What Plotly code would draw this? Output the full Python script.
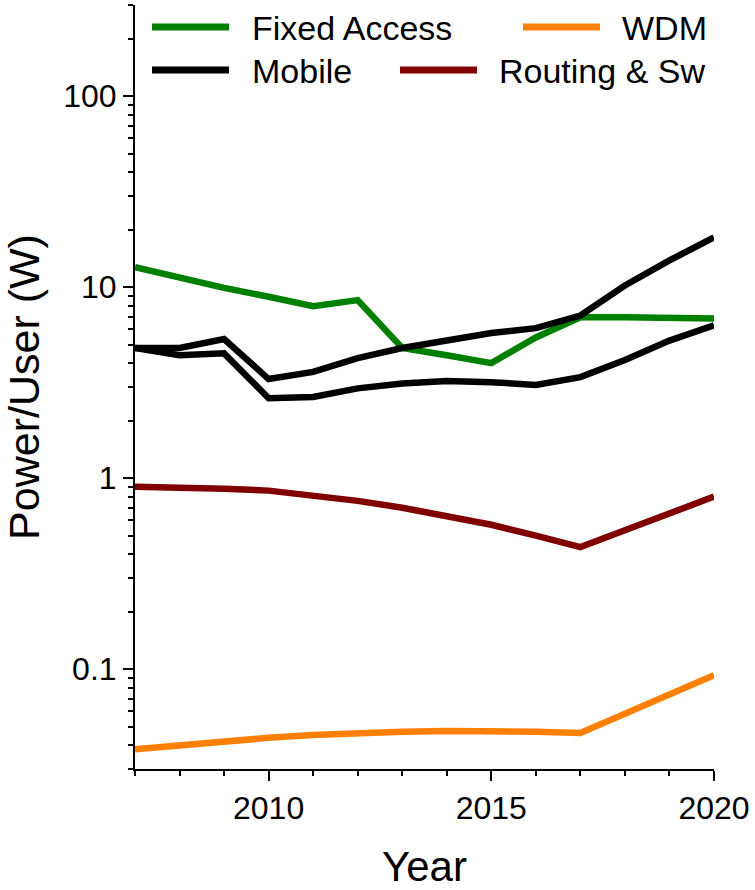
import plotly.graph_objects as go

years = list(range(2007, 2021))
fixed_access = [12.7, 11.2, 9.9, 8.9, 7.95, 8.55, 4.8, 4.4, 4.0, 5.45, 6.95, 6.95, 6.9, 6.85]
mobile_high = [4.8, 4.8, 5.35, 3.3, 3.6, 4.25, 4.8, 5.3, 5.75, 6.1, 7.1, 10.2, 13.8, 18.2]
mobile_low = [4.8, 4.4, 4.5, 2.62, 2.66, 2.95, 3.13, 3.22, 3.18, 3.07, 3.38, 4.15, 5.25, 6.3]
routing_sw = [0.90, 0.895, 0.88, 0.86, 0.81, 0.76, 0.70, 0.635, 0.57, 0.50, 0.435, 0.533, 0.653, 0.80]
wdm = [0.038, 0.040, 0.042, 0.0437, 0.0452, 0.0463, 0.0470, 0.0474, 0.0475, 0.0470, 0.0463, 0.0584, 0.0737, 0.093]

y_major = [0.1, 1, 10, 100]
y_major_labels = ["0.1", "1", "10", "100"]
y_minor = [m * 10.0 ** e for e in range(-2, 3) for m in range(2, 10)]
x_major = [2010, 2015, 2020]

GREEN = "#008000"
BLACK = "#000000"
ORANGE = "#FF8000"
DARKRED = "#800000"
FONT = "Arial, Liberation Sans, sans-serif"

W, H = 755, 890
ML, MR, MT, MB = 135, 41, 5, 121
PW, PH = W - ML - MR, H - MT - MB

fig = go.Figure()
series = [
    ("Fixed Access", fixed_access, GREEN),
    ("Mobile", mobile_high, BLACK),
    ("Mobile", mobile_low, BLACK),
    ("Routing & Sw", routing_sw, DARKRED),
    ("WDM", wdm, ORANGE),
]
for name, vals, col in series:
    fig.add_trace(go.Scatter(x=years, y=vals, mode="lines", name=name,
                             line=dict(color=col, width=6.5), showlegend=False))

# manual legend (layout elements)
def px_x(p):
    return (p - ML) / PW

def px_y(p):
    return (H - MB - p) / PH

legend_items = [
    ("Fixed Access", GREEN, 152, 229, 27, 250),
    ("Mobile", BLACK, 152, 229, 70, 250),
    ("WDM", ORANGE, 523, 600, 27, 620),
    ("Routing & Sw", DARKRED, 400, 477, 70, 497),
]
for text, col, x0, x1, yc, tx in legend_items:
    fig.add_shape(type="line", xref="paper", yref="paper",
                  x0=px_x(x0), x1=px_x(x1), y0=px_y(yc), y1=px_y(yc),
                  line=dict(color=col, width=7))
    fig.add_annotation(xref="paper", yref="paper", x=px_x(tx), y=px_y(yc + 1),
                       text=text, showarrow=False, xanchor="left", yanchor="middle",
                       font=dict(family=FONT, size=34, color="black"))

fig.update_layout(
    width=W, height=H,
    margin=dict(l=ML, r=MR, t=MT, b=MB, pad=0),
    paper_bgcolor="white", plot_bgcolor="white",
    font=dict(family=FONT, color="black"),
    showlegend=False,
)
fig.update_xaxes(
    range=[2007, 2020], tickvals=x_major, ticktext=[str(v) for v in x_major],
    ticks="outside", ticklen=10, tickwidth=2, tickcolor="black",
    minor=dict(dtick=1, tick0=2007, ticks="outside", ticklen=5, tickwidth=2, tickcolor="black"),
    showline=True, linecolor="black", linewidth=2, showgrid=False, zeroline=False,
    tickfont=dict(size=32, family=FONT),
    title=dict(text="Year", font=dict(size=42, family=FONT), standoff=26),
)
fig.update_yaxes(
    type="log", range=[-1.523, 2.477],
    tickvals=y_major, ticktext=y_major_labels,
    ticks="outside", ticklen=10, tickwidth=2, tickcolor="black",
    minor=dict(tickvals=y_minor, ticks="outside", ticklen=5, tickwidth=2, tickcolor="black"),
    showline=True, linecolor="black", linewidth=2, showgrid=False, zeroline=False,
    tickfont=dict(size=32, family=FONT),
    title=dict(text="Power/User (W)", font=dict(size=43, family=FONT), standoff=24),
)

fig.write_html("out.html", config={"displayModeBar": False},
               post_script="document.body.style.margin='0px';")
